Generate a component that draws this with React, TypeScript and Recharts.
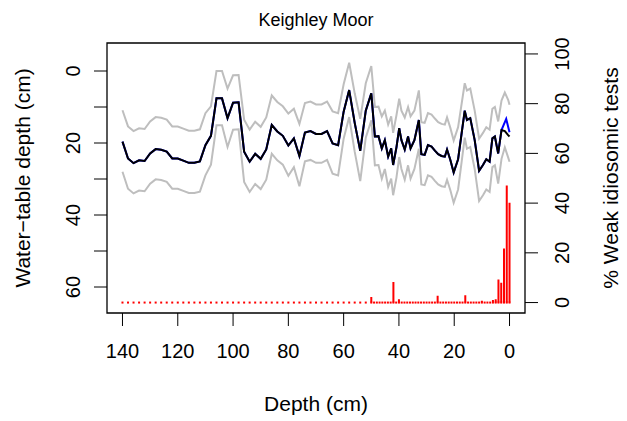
import React from 'react';
import { ComposedChart, Line, Scatter, XAxis, YAxis, ReferenceArea } from 'recharts';

const FONT = '"Liberation Sans", Arial, Helvetica, sans-serif';

// core depths (cm) of the water-table reconstruction
const coreDepth = [
  140, 138, 136, 134, 132, 130, 128, 126, 124, 122, 120, 118, 116, 114, 112, 110, 108, 106, 104, 102,
  100, 98, 96, 94, 92, 90, 88, 86, 84, 82, 80, 78, 76, 74, 72, 70, 68, 66, 64, 62, 60, 58, 56, 54, 52, 50,
  48.7, 47.4, 46.2, 45.1, 43.9, 42.8, 42.1, 40.9, 39.9, 39.1, 37.9, 36.7, 35.8, 34.4, 32.8, 31.9, 30.7,
  29.5, 28.2, 27.0, 25.8, 24.6, 23.4, 22.6, 21.4, 20.2, 18.6, 16.2, 15.4, 14.2, 12.6, 11.0, 9.6, 8.4,
  7.2, 6.2, 5.3, 4.1, 2.9, 1.7, 0.5, 0,
];
// reconstructed water-table depth (cm)
const wtValue = [
  19.6, 24.3, 25.6, 24.8, 25.0, 22.9, 21.7, 21.9, 22.4, 24.3, 24.3, 24.9, 25.5, 25.5, 25.1, 20.6, 18.0, 7.6, 7.6, 13.1,
  8.8, 8.7, 22.4, 25.2, 23.0, 24.4, 21.8, 15.0, 16.8, 18.0, 20.7, 18.7, 23.6, 17.1, 16.7, 17.5, 17.5, 16.7, 20.1, 20.6,
  11.3, 5.3, 14.4, 22.2, 11.0, 6.2,
  18.2, 18.1, 21.5, 19.2, 23.8, 21.5, 26.1, 21.2, 15.9, 19.2, 21.8, 18.2, 21.5, 19.2, 13.6, 23.1, 23.3,
  20.6, 21.0, 22.1, 23.1, 23.6, 23.8, 21.8, 24.7, 28.2, 24.5, 11.0, 13.6, 13.1, 19.2, 27.7, 26.1, 24.5,
  25.2, 18.7, 18.2, 22.9, 16.4, 16.7, 17.8, 18.2,
];
// error envelope
const wtUpper = [
  10.9, 15.4, 16.7, 15.9, 16.1, 14.0, 12.8, 13.0, 13.5, 15.4, 15.4, 16.0, 16.6, 16.6, 16.2, 11.7, 9.8, 0.0, 0.0, 4.9,
  1.2, 1.1, 13.5, 16.3, 14.1, 15.5, 12.9, 6.8, 8.6, 9.8, 11.8, 10.5, 14.7, 8.9, 8.5, 9.3, 9.3, 8.5, 11.2, 11.7,
  3.7, -2.3, 6.2, 13.3, 3.4, -1.4,
  10.0, 9.9, 12.6, 11.0, 14.9, 12.6, 17.2, 12.3, 7.7, 11.0, 12.9, 10.0, 12.6, 11.0, 5.4, 14.2, 14.4,
  11.7, 12.1, 13.2, 14.2, 14.7, 14.9, 12.9, 15.8, 19.3, 15.6, 3.4, 5.4, 4.9, 11.0, 18.8, 17.2, 15.6,
  16.3, 10.5, 10.0, 14.0, 8.2, 6.0, 8.0, 9.4,
];
const wtLower = [
  28.0, 32.7, 34.0, 33.2, 33.4, 31.3, 30.1, 30.3, 30.8, 32.7, 32.7, 33.3, 33.9, 33.9, 33.5, 29.0, 26.0, 15.1, 15.1, 21.1,
  16.3, 16.2, 30.8, 33.6, 31.4, 32.8, 30.2, 23.0, 24.8, 26.0, 29.1, 26.7, 32.0, 25.1, 24.7, 25.5, 25.5, 24.7, 28.5, 29.0,
  18.8, 12.8, 22.4, 30.6, 18.5, 13.7,
  26.2, 26.1, 29.9, 27.2, 32.2, 29.9, 34.5, 29.6, 23.9, 27.2, 30.2, 26.2, 29.9, 27.2, 21.6, 31.5, 31.7,
  29.0, 29.4, 30.5, 31.5, 32.0, 32.2, 30.2, 33.1, 36.6, 32.9, 18.5, 21.6, 21.1, 27.2, 36.1, 34.5, 32.9,
  33.6, 26.7, 26.2, 31.3, 24.4, 21.2, 24.0, 25.2,
];
// second reconstruction, differs only near the surface
const altDepth = [2.9, 1.2, 0];
const altValue = [16.4, 13.3, 17.0];

// samples counted for weak idiosomic tests
const testDepth = [
  140, 138, 136, 134, 132, 130, 128, 126, 124, 122, 120, 118, 116, 114, 112, 110, 108, 106, 104, 102,
  100, 98, 96, 94, 92, 90, 88, 86, 84, 82, 80, 78, 76, 74, 72, 70, 68, 66, 64, 62, 60, 58, 56, 54, 52,
  50, 49, 48, 47, 46, 45, 44, 43, 42, 41, 40, 39, 38, 37, 36, 35, 34, 33, 32, 31, 30, 29, 28, 27, 26,
  25, 24, 23, 22, 21, 20, 19, 18, 17, 16, 15, 14, 13, 12, 11, 10, 9, 8, 7, 6, 5, 4, 3, 2, 1, 0,
];
// non-zero percentages
const weakDepth = [50, 42, 40, 26, 16, 10, 6, 5, 4, 3, 2, 1, 0];
const weakPct = [2.2, 8.3, 1.3, 2.7, 2.9, 0.7, 1.0, 1.3, 9.3, 8.0, 21.7, 47.1, 40.1];

const xTicks = [140, 120, 100, 80, 60, 40, 20, 0];
const wtTicks = [0, 10, 20, 30, 40, 50, 60];
const pctTicks = [0, 20, 40, 60, 80, 100];

const X_DOMAIN = [-5.6, 145.6];
const WT_DOMAIN = [-7.78, 67.22];
const PCT_DOMAIN = [-4.2, 104.4];

const coreRows = coreDepth.map((d, i) => ({ depth: d, wt: wtValue[i], up: wtUpper[i], lo: wtLower[i] }));
const cut = coreDepth.indexOf(altDepth[0]);
const altRows = coreRows.slice(0, cut).concat(altDepth.map((d, i) => ({ depth: d, wt: altValue[i], up: 0, lo: 0 })));
const baseDots = testDepth.map((d) => ({ depth: d, pct: 0 }));
const barRows = weakDepth.flatMap((d, i) => [
  { depth: d, pct: 0 },
  { depth: d, pct: weakPct[i] },
  { depth: d, pct: null },
]);

const XTick = (p: any) => (
  <text x={p.x} y={p.y} dy="0.71em" textAnchor="middle" fontSize={20} fontFamily={FONT} fill="#000">
    {p.payload.value}
  </text>
);

const RotTick = (p: any) => {
  if (p.payload.value % 20 !== 0) return <g />;
  return (
    <text x={p.x} y={p.y} transform={`rotate(-90 ${p.x} ${p.y})`} textAnchor="middle" fontSize={20} fontFamily={FONT} fill="#000">
      {p.payload.value}
    </text>
  );
};

const LeftTitle = (p: any) => {
  const vb = p.viewBox;
  const x = vb.x + 30;
  const y = vb.y + vb.height / 2;
  return (
    <text x={x} y={y} transform={`rotate(-90 ${x} ${y})`} textAnchor="middle" fontSize={21} fontFamily={FONT} fill="#000">
      Water−table depth (cm)
    </text>
  );
};

const RightTitle = (p: any) => {
  const vb = p.viewBox;
  const x = vb.x + 93;
  const y = vb.y + vb.height / 2;
  return (
    <text x={x} y={y} transform={`rotate(-90 ${x} ${y})`} textAnchor="middle" fontSize={21} fontFamily={FONT} fill="#000">
      % Weak idiosomic tests
    </text>
  );
};

// x-axis title plus the main title above the plot box
const BottomTitle = (p: any) => {
  const vb = p.viewBox;
  const cx = vb.x + vb.width / 2;
  return (
    <g>
      <text x={cx} y={vb.y + 98} textAnchor="middle" fontSize={21} fontFamily={FONT} fill="#000">
        Depth (cm)
      </text>
      <text x={cx} y={26} textAnchor="middle" fontSize={18} fontFamily={FONT} fill="#000">
        Keighley Moor
      </text>
    </g>
  );
};

export default function App() {
  return (
    <div style={{ position: 'absolute', left: 0, top: 0, width: 627, height: 421, background: '#fff' }}>
      <ComposedChart width={627} height={421} margin={{ top: 43, right: 0, bottom: 0, left: 0 }}>
        <XAxis
          dataKey="depth"
          type="number"
          domain={X_DOMAIN}
          reversed
          allowDataOverflow
          ticks={xTicks}
          interval={0}
          height={108}
          axisLine={false}
          tickLine={{ stroke: '#000', strokeWidth: 1 }}
          tickSize={13}
          tickMargin={18}
          tick={XTick}
          label={<BottomTitle />}
        />
        <YAxis
          yAxisId="left"
          type="number"
          domain={WT_DOMAIN}
          reversed
          allowDataOverflow
          ticks={wtTicks}
          interval={0}
          width={107}
          axisLine={false}
          tickLine={{ stroke: '#000', strokeWidth: 1 }}
          tickSize={13}
          tickMargin={14}
          tick={RotTick}
          label={<LeftTitle />}
        />
        <YAxis
          yAxisId="right"
          orientation="right"
          type="number"
          domain={PCT_DOMAIN}
          allowDataOverflow
          ticks={pctTicks}
          interval={0}
          width={102}
          axisLine={false}
          tickLine={{ stroke: '#000', strokeWidth: 1 }}
          tickSize={13}
          tickMargin={31}
          tick={RotTick}
          label={<RightTitle />}
        />
        <Line yAxisId="left" data={coreRows} dataKey="up" type="linear" stroke="#bebebe" strokeWidth={2} dot={false} isAnimationActive={false} />
        <Line yAxisId="left" data={coreRows} dataKey="lo" type="linear" stroke="#bebebe" strokeWidth={2} dot={false} isAnimationActive={false} />
        <Line yAxisId="left" data={altRows} dataKey="wt" type="linear" stroke="#0000ff" strokeWidth={2} dot={false} isAnimationActive={false} />
        <Line yAxisId="left" data={coreRows} dataKey="wt" type="linear" stroke="#000000" strokeWidth={2} dot={false} isAnimationActive={false} />
        <Line
          yAxisId="right"
          data={barRows}
          dataKey="pct"
          type="linear"
          stroke="#ff0000"
          strokeWidth={2}
          strokeLinecap="butt"
          dot={false}
          connectNulls={false}
          isAnimationActive={false}
        />
        <Scatter
          yAxisId="right"
          data={baseDots}
          dataKey="pct"
          isAnimationActive={false}
          shape={(p: any) => <rect x={p.cx - 1} y={p.cy - 1} width={2} height={2} fill="#ff0000" />}
        />
        <ReferenceArea
          yAxisId="left"
          x1={X_DOMAIN[0]}
          x2={X_DOMAIN[1]}
          y1={WT_DOMAIN[0]}
          y2={WT_DOMAIN[1]}
          fill="none"
          stroke="#000"
          strokeWidth={1.3}
          ifOverflow="visible"
        />
      </ComposedChart>
    </div>
  );
}
